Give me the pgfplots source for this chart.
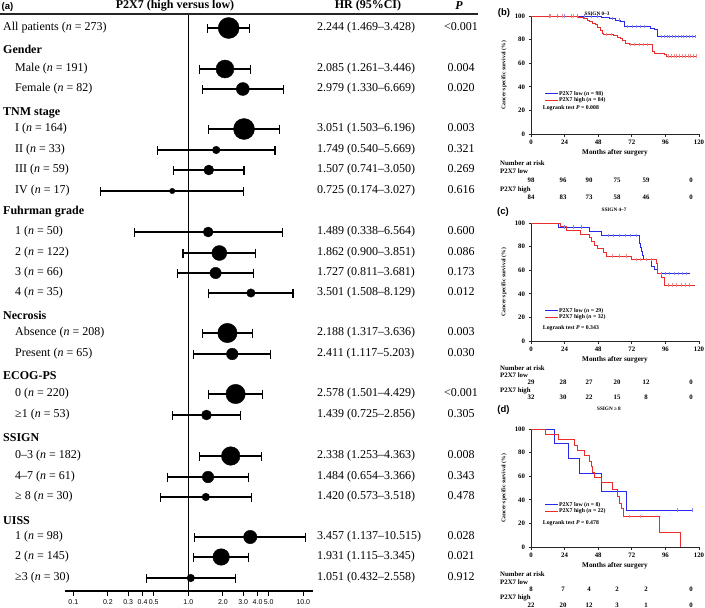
\documentclass[border=0pt]{standalone}
\usepackage{pgfplots}
\pgfplotsset{compat=1.18}
\usepackage{pgfplotstable}
\usepackage{fontspec}
\setmainfont{Liberation Serif}
\newfontfamily\sansf{Liberation Sans}
\definecolor{kmblue}{RGB}{40,40,235}
\definecolor{kmred}{RGB}{235,45,45}
\newcommand{\F}{\fontsize{12}{14}\selectfont}
\newcommand{\K}[1]{\fontsize{#1}{#1}\selectfont\bfseries}
\newcommand{\RL}[2]{\node[anchor=mid west,font=\F,inner sep=0pt] at (15pt,-#1pt) {#2};}
\newcommand{\HL}[2]{\node[anchor=mid west,font=\F\bfseries,inner sep=0pt] at (3pt,-#1pt) {#2};}
\newcommand{\HR}[3]{\node[anchor=mid west,font=\F,inner sep=0pt] at (317pt,-#1pt) {#2};\node[anchor=mid,font=\F,inner sep=0pt] at (461pt,-#1pt) {#3};}
\newcommand{\riskrow}[7]{%
\node[font=\K{6.8},anchor=mid,inner sep=0pt] at (531pt,-#1pt) {#2};
\node[font=\K{6.8},anchor=mid,inner sep=0pt] at (563pt,-#1pt) {#3};
\node[font=\K{6.8},anchor=mid,inner sep=0pt] at (589pt,-#1pt) {#4};
\node[font=\K{6.8},anchor=mid,inner sep=0pt] at (617pt,-#1pt) {#5};
\node[font=\K{6.8},anchor=mid,inner sep=0pt] at (646pt,-#1pt) {#6};
\node[font=\K{6.8},anchor=mid,inner sep=0pt] at (691pt,-#1pt) {#7};}
\newcommand{\risklab}[2]{\node[font=\K{6.8},anchor=mid west,inner sep=0pt] at (500pt,-#1pt) {#2};}

\pgfplotstableread{
hr lo hi y r
2.244 1.469 3.428 -28 10.5
2.085 1.261 3.446 -69 9
2.979 1.330 6.669 -89 6.5
3.051 1.503 6.196 -129 10.5
1.749 0.540 5.669 -150 3.8
1.507 0.741 3.050 -170 5
0.725 0.174 3.027 -191 2.7
1.489 0.338 6.564 -232 5
1.862 0.900 3.851 -253 7.5
1.727 0.811 3.681 -273 5.7
3.501 1.508 8.129 -293 4.2
2.188 1.317 3.636 -333 9.7
2.411 1.117 5.203 -354 5.8
2.578 1.501 4.429 -394 9.7
1.439 0.725 2.856 -415 5
2.338 1.253 4.363 -456 9.3
1.484 0.654 3.366 -477 5.8
1.420 0.573 3.518 -497 3.8
3.457 1.137 10.515 -537 6.7
1.931 1.115 3.345 -557 8.3
1.051 0.432 2.558 -578 3.8
}\foresttab

\pgfplotsset{km/.style={
 scale only axis, width=168pt, height=118pt,
 xmin=0, xmax=120, ymin=0, ymax=100,
 axis lines*=left,
 axis line style={line width=0.7pt, black!85},
 xtick={0,24,48,72,96,120}, ytick={0,20,40,60,80,100},
 tick align=outside, major tick length=2.5pt,
 tick style={line width=0.7pt, black!85},
 /pgf/number format/assume math mode=true,
 tick label style={font=\K{6.8}},
 xticklabel style={yshift=0.5pt},
 xlabel={Months after surgery}, ylabel={Cancer-specific survival (\%)},
 xlabel style={font=\K{7.2}, at={(axis description cs:0.5,-0.16)}, anchor=center},
 ylabel style={font=\K{5.6}, at={(axis description cs:-0.16,0.5)}, anchor=center},
 clip=false,
 legend cell align=left,
 legend style={draw=none, fill=none, anchor=north west, font=\K{5.8}, inner sep=0pt, row sep=-0.3pt, nodes={inner sep=0.5pt}},
 legend image code/.code={\draw[##1, line width=0.9pt] (0pt,0pt) -- (13pt,0pt);},
}}

\begin{document}
\begin{tikzpicture}
\path[use as bounding box] (0,0) rectangle (705pt,-608pt);

% ---------------- forest plot (a) ----------------
\begin{axis}[at={(65pt,-591pt)}, anchor=south west, scale only axis,
 width=248pt, height=577pt,
 xmode=log, xmin=0.08472, xmax=12.14, ymin=-591, ymax=-14,
 axis x line*=bottom, axis y line=none,
 xtick={0.1,0.2,0.3,0.4,0.5,1,2,3,4,5,10},
 xticklabels={0.1,0.2,0.3,0.4,0.5,1.0,2.0,3.0,4.0,5.0,10.0},
 xminorticks=false,
 tick align=outside, major tick length=5pt,
 tick style={black, line width=1.1pt},
 axis line style={black, line width=1.1pt},
 xticklabel style={font=\sansf\fontsize{7}{8}\selectfont},
 clip=false]
\addplot[black, line width=1.3pt] coordinates {(1,-14) (1,-591)};
\addplot[draw=none, mark=none,
 error bars/.cd, x dir=both, x explicit,
 error bar style={line width=1.1pt, black},
 error mark options={rotate=90, mark size=4.5pt, line width=1.1pt, black}]
 table[x=hr, y=y, x error plus expr=\thisrow{hi}-\thisrow{hr}, x error minus expr=\thisrow{hr}-\thisrow{lo}] \foresttab;
\addplot[scatter, only marks, mark=*,
 scatter/use mapped color={draw=black, fill=black},
 visualization depends on={\thisrow{r} \as \markr},
 scatter/@pre marker code/.append style={/tikz/mark size=\markr pt}]
 table[x=hr, y=y] \foresttab;
\end{axis}

\draw[black!85, line width=1.1pt] (0pt,-14pt) -- (478pt,-14pt);
\node[font=\sansf\bfseries\fontsize{9.5}{10}\selectfont, anchor=center, inner sep=0pt] at (7.5pt,-6.7pt) {(a)};
\node[font=\F\bfseries, anchor=center, inner sep=0pt] at (175pt,-6pt) {P2X7 (high versus low)};
\node[font=\F\bfseries, anchor=center, inner sep=0pt] at (368pt,-6pt) {HR (95\%CI)};
\node[font=\F\bfseries\itshape, anchor=center, inner sep=0pt] at (459pt,-6pt) {P};

\node[anchor=mid west,font=\F,inner sep=0pt] at (3pt,-28pt) {All patients (\textit{n} = 273)};
\HR{28}{2.244 (1.469–3.428)}{<0.001}
\HL{51}{Gender}
\RL{69}{Male (\textit{n} = 191)} \HR{69}{2.085 (1.261–3.446)}{0.004}
\RL{89}{Female (\textit{n} = 82)} \HR{89}{2.979 (1.330–6.669)}{0.020}
\HL{113}{TNM stage}
\RL{129}{I (\textit{n} = 164)} \HR{129}{3.051 (1.503–6.196)}{0.003}
\RL{150}{II (\textit{n} = 33)} \HR{150}{1.749 (0.540–5.669)}{0.321}
\RL{170}{III (\textit{n} = 59)} \HR{170}{1.507 (0.741–3.050)}{0.269}
\RL{191}{IV (\textit{n} = 17)} \HR{191}{0.725 (0.174–3.027)}{0.616}
\HL{212}{Fuhrman grade}
\RL{232}{1 (\textit{n} = 50)} \HR{232}{1.489 (0.338–6.564)}{0.600}
\RL{253}{2 (\textit{n} = 122)} \HR{253}{1.862 (0.900–3.851)}{0.086}
\RL{273}{3 (\textit{n} = 66)} \HR{273}{1.727 (0.811–3.681)}{0.173}
\RL{293}{4 (\textit{n} = 35)} \HR{293}{3.501 (1.508–8.129)}{0.012}
\HL{317}{Necrosis}
\RL{333}{Absence (\textit{n} = 208)} \HR{333}{2.188 (1.317–3.636)}{0.003}
\RL{354}{Present (\textit{n} = 65)} \HR{354}{2.411 (1.117–5.203)}{0.030}
\HL{377}{ECOG-PS}
\RL{394}{0 (\textit{n} = 220)} \HR{394}{2.578 (1.501–4.429)}{<0.001}
\RL{415}{≥1 (\textit{n} = 53)} \HR{415}{1.439 (0.725–2.856)}{0.305}
\HL{439}{SSIGN}
\RL{456}{0–3 (\textit{n} = 182)} \HR{456}{2.338 (1.253–4.363)}{0.008}
\RL{477}{4–7 (\textit{n} = 61)} \HR{477}{1.484 (0.654–3.366)}{0.343}
\RL{497}{≥ 8 (\textit{n} = 30)} \HR{497}{1.420 (0.573–3.518)}{0.478}
\HL{522}{UISS}
\RL{537}{1 (\textit{n} = 98)} \HR{537}{3.457 (1.137–10.515)}{0.028}
\RL{557}{2 (\textit{n} = 145)} \HR{557}{1.931 (1.115–3.345)}{0.021}
\RL{578}{≥3 (\textit{n} = 30)} \HR{578}{1.051 (0.432–2.558)}{0.912}

% ---------------- KM (b) ----------------
\begin{axis}[km, at={(531pt,-134pt)}, anchor=south west,
 legend style={at={(axis description cs:0.08,0.37)}}]
\addplot[const plot, kmblue, line width=0.9pt] coordinates {(0,100) (50.5,98.9) (56,97.8) (60,96.6) (64,95.4) (66.5,91) (85,89.8) (88,88.5) (90.5,82.7) (118,82.7)};
\addlegendentry{P2X7 low (\textit{n} = 98)}
\addplot[const plot, kmred, line width=0.9pt] coordinates {(0,100) (34,98.8) (37.5,97.6) (40,96.4) (42,95.2) (44,94) (46,92.8) (47.5,90.4) (49.5,88) (51,85.5) (52,84.3) (59,83.1) (62,81.9) (64,80.7) (65.5,79.5) (67.5,77.1) (70,75.9) (87,70.3) (88,68.5) (95,67.3) (97,66.1) (118.5,66.1)};
\addlegendentry{P2X7 high (\textit{n} = 84)}
\addplot[only marks, mark=|, mark size=1.6pt, kmblue!55, forget plot] coordinates {(13,100)(19,100)(24,100)(29,100)(33,100)(38,100)(43,100)(47,100)(58,97.8)(63,96.6)(69,91)(72,91)(75,91)(78,91)(81,91)(93,82.7)(95,82.7)(97,82.7)(99,82.7)(101,82.7)(103,82.7)(105,82.7)(107,82.7)(109,82.7)(111,82.7)(113,82.7)(115,82.7)(117,82.7)};
\addplot[only marks, mark=|, mark size=1.6pt, kmred!55, forget plot] coordinates {(14,100)(22,100)(30,100)(54,84.3)(57,84.3)(71,75.9)(74,75.9)(77,75.9)(80,75.9)(83,75.9)(98,66.1)(100,66.1)(102,66.1)(104,66.1)(106,66.1)(108,66.1)(110,66.1)(112,66.1)(114,66.1)(116,66.1)(118,66.1)};
\end{axis}
\node[font=\sansf\bfseries\fontsize{9.5}{10}\selectfont, inner sep=0pt] at (504pt,-13.5pt) {(b)};
\node[font=\K{5.2}, inner sep=0pt] at (597pt,-14pt) {SSIGN 0–3};
\node[font=\K{5.8}, anchor=mid west, inner sep=0pt] at (542.7pt,-107pt) {Logrank test \textit{P} = 0.008};
\risklab{163}{Number at risk}
\risklab{171}{P2X7 low}
\riskrow{180}{98}{96}{90}{75}{59}{0}
\risklab{189}{P2X7 high}
\riskrow{197}{84}{83}{73}{58}{46}{0}

% ---------------- KM (c) ----------------
\begin{axis}[km, at={(531pt,-341pt)}, anchor=south west,
 legend style={at={(axis description cs:0.08,0.285)}}]
\addplot[const plot, kmblue, line width=0.9pt] coordinates {(0,100) (19.5,96.6) (42,93.1) (50.5,89.7) (77.2,86.2) (77.7,82.8) (78.2,79.3) (78.7,75.9) (79.3,72.4) (80,69) (86,63.5) (88.5,60.5) (90,57.5) (113.5,57.5)};
\addlegendentry{P2X7 low (\textit{n} = 29)}
\addplot[const plot, kmred, line width=0.9pt] coordinates {(0,100) (21,96.9) (25,93.8) (35,90.6) (41.5,87.5) (43,84.4) (45,81.3) (47.5,78.1) (51.5,75) (54,72) (72,69.3) (89.5,65.5) (90.5,57.5) (93,53.8) (95.5,47.4) (117,47.4)};
\addlegendentry{P2X7 high (\textit{n} = 32)}
\addplot[only marks, mark=|, mark size=1.6pt, kmblue!55, forget plot] coordinates {(24,96.6)(30,96.6)(36,96.6)(55,89.7)(59,89.7)(63,89.7)(67,89.7)(71,89.7)(75,89.7)(93,57.5)(96,57.5)(99,57.5)(102,57.5)(105,57.5)(108,57.5)(111,57.5)};
\addplot[only marks, mark=|, mark size=1.6pt, kmred!55, forget plot] coordinates {(58,72)(63,72)(68,72)(75,69.3)(78,69.3)(82,69.3)(86,69.3)(98,47.4)(101,47.4)(104,47.4)(107,47.4)(110,47.4)(113,47.4)};
\end{axis}
\node[font=\sansf\bfseries\fontsize{9.5}{10}\selectfont, inner sep=0pt] at (503pt,-211.7pt) {(c)};
\node[font=\K{5.2}, inner sep=0pt] at (614pt,-210pt) {SSIGN 4–7};
\node[font=\K{5.8}, anchor=mid west, inner sep=0pt] at (542.7pt,-327pt) {Logrank test \textit{P} = 0.343};
\risklab{368}{Number at risk}
\risklab{375}{P2X7 low}
\riskrow{382}{29}{28}{27}{20}{12}{0}
\risklab{390}{P2X7 high}
\riskrow{397}{32}{30}{22}{15}{8}{0}

% ---------------- KM (d) ----------------
\begin{axis}[km, at={(531pt,-547pt)}, anchor=south west,
 legend style={at={(axis description cs:0.08,0.387)}}]
\addplot[const plot, kmblue, line width=0.9pt] coordinates {(0,100) (17,87.5) (26.5,75) (34.8,62.5) (50.2,46.9) (67.9,31.3) (115.3,31.3)};
\addlegendentry{P2X7 low (\textit{n} = 8)}
\addplot[const plot, kmred, line width=0.9pt] coordinates {(0,100) (10.4,95.5) (19.4,90.9) (31,86.4) (33.5,81.8) (38.5,77.3) (41.5,72.7) (43,68.2) (44,63.6) (45.5,59.1) (50,54.5) (58.5,49.1) (62,43.2) (63.3,37.1) (64.5,33) (66,25.9) (91.6,12.4) (107,0)};
\addlegendentry{P2X7 high (\textit{n} = 22)}
\addplot[only marks, mark=|, mark size=1.6pt, kmblue!55, forget plot] coordinates {(104.5,31.3)(115.3,31.3)};
\addplot[only marks, mark=|, mark size=1.6pt, kmred!55, forget plot] coordinates {(70,25.9)(78,25.9)};
\end{axis}
\node[font=\sansf\bfseries\fontsize{9.5}{10}\selectfont, inner sep=0pt] at (503.5pt,-410pt) {(d)};
\node[font=\K{5.2}, inner sep=0pt] at (609pt,-409pt) {SSIGN ≥ 8};
\node[font=\K{5.8}, anchor=mid west, inner sep=0pt] at (542.7pt,-522pt) {Logrank test \textit{P} = 0.478};
\risklab{574}{Number at risk}
\risklab{582}{P2X7 low}
\riskrow{589}{8}{7}{4}{2}{2}{0}
\risklab{597}{P2X7 high}
\riskrow{605}{22}{20}{12}{3}{1}{0}
\end{tikzpicture}
\end{document}
